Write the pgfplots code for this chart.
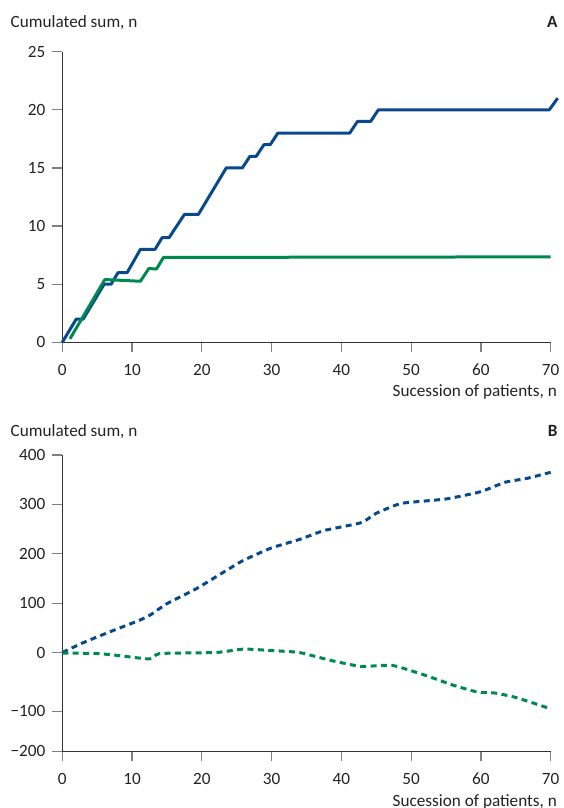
\documentclass[border=0pt]{standalone}
\usepackage{fontspec}
\setmainfont{Carlito}
\usepackage{pgfplots}
\pgfplotsset{compat=1.18}
\definecolor{cblue}{RGB}{8,73,140}
\definecolor{cgreen}{RGB}{0,137,79}
\definecolor{txt}{RGB}{35,35,35}
\begin{document}
\begin{tikzpicture}[x=1pt,y=1pt,font=\fontsize{8.6}{10}\selectfont]
\useasboundingbox (-31.15,-28.35) rectangle (250.35,375.65);
\pgfplotsset{
 mystyle/.style={
  scale only axis, width=244.2pt,
  axis x line*=bottom, axis y line*=left,
  xmin=0, xmax=70, xtick={0,10,...,70},
  tick align=outside, major tick length=5pt,
  every tick/.style={black!50, line width=0.6pt},
  axis line style={black!80, line width=0.6pt},
  tick label style={text=txt, font=\fontsize{8.6}{10}\selectfont},
  xticklabel style={yshift=-2.5pt},
  /pgf/number format/assume math mode=true,
  clip=false,
 }
}
% Panel A
\begin{axis}[mystyle, at={(0,204.5pt)}, height=145.3pt, ymin=0, ymax=25, ytick={0,5,...,25}]
\addplot[cblue, line width=1.5pt, line join=round] coordinates {
(0,0) (2,2) (3,2) (6,5) (7,5) (8,6) (9.3,6) (11.2,8) (13.3,8) (14.3,9) (15.3,9)
(17.5,11) (19.5,11) (23.5,15) (25.8,15) (26.9,16) (27.8,16) (28.9,17) (29.8,17)
(30.9,18) (41.2,18) (42.3,19) (44.2,19) (45.3,20) (69.8,20) (71,21)};
\addplot[cgreen, line width=1.5pt, line join=round] coordinates {
(1.1,0.3) (6.1,5.4) (11.2,5.25) (12.4,6.35) (13.5,6.3) (14.5,7.3) (70,7.35)};
\end{axis}
% Panel B
\begin{axis}[mystyle, at={(0,0)}, height=148.15pt, ymin=-200, ymax=400,
  ytick={-200,-119,0,100,200,300,400},
  yticklabels={−200,−100,0,100,200,300,400}]
\addplot[cblue, line width=1.5pt, dash pattern=on 3pt off 2.2pt, smooth, tension=0.3] coordinates {
(0,0) (3,20) (7,43) (11,65) (12.6,76) (15,99) (19.3,130) (23.6,167) (26,187)
(30,212) (34,229) (37.5,247) (42,260) (43.2,265) (45,282) (47.5,297) (49,303)
(55,311) (59.5,324) (61,331) (63.5,345) (66.7,353) (70,365)};
\addplot[cgreen, line width=1.5pt, dash pattern=on 3pt off 2.2pt, smooth, tension=0.3] coordinates {
(0,-1) (5,-2) (8,-6) (12.5,-13) (14,-2) (22,0) (26,7) (30,4) (34,0) (38.5,-16)
(42.8,-28) (47.3,-26) (52,-46) (56,-66) (59.5,-80) (62,-82) (65,-91) (70,-114)};
\end{axis}
\node[anchor=base west, text=txt, inner sep=0pt] at (-26,361.65) {Cumulated sum, n};
\node[anchor=base east, text=txt, inner sep=0pt, font=\fontsize{8.6}{10}\selectfont\bfseries] at (247.85,361.65) {A};
\node[anchor=base east, text=txt, inner sep=0pt] at (247.5,177.15) {Sucession of patients, n};
\node[anchor=base west, text=txt, inner sep=0pt] at (-26,157.15) {Cumulated sum, n};
\node[anchor=base east, text=txt, inner sep=0pt, font=\fontsize{8.6}{10}\selectfont\bfseries] at (247.85,157.15) {B};
\node[anchor=base east, text=txt, inner sep=0pt] at (247.5,-27.35) {Sucession of patients, n};
\end{tikzpicture}
\end{document}
